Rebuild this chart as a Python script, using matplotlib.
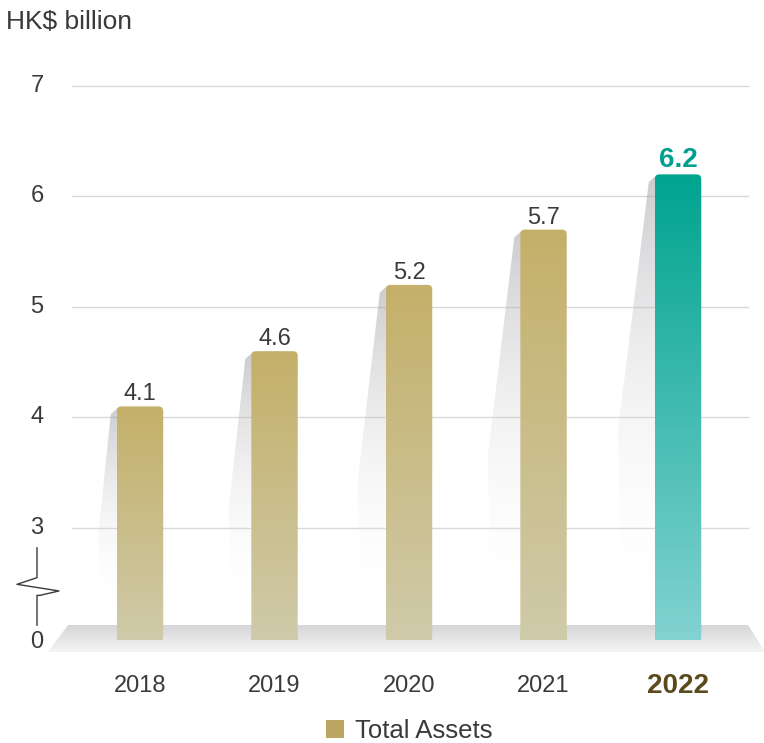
import numpy as np
import matplotlib.pyplot as plt
from matplotlib.patches import Polygon, FancyBboxPatch, Rectangle
from matplotlib.colors import to_rgb

years = ["2018", "2019", "2020", "2021", "2022"]
assets = [4.1, 4.6, 5.2, 5.7, 6.2]
yticks = [3, 4, 5, 6, 7]
ytick_labels = ["3", "4", "5", "6", "7"]

plt.rcParams['font.family'] = ['Liberation Sans', 'DejaVu Sans']

base = 1.986          # where the broken axis puts "0"
bar_w = 0.345
gold_top, gold_bot = "#c4b069", "#cfcaa9"
teal_top, teal_bot = "#00a48f", "#82d2d1"
txt = "#3a3a3a"

fig = plt.figure(figsize=(7.64, 7.43), dpi=100)
ax = fig.add_axes([0, 0, 1, 1])
ax.set_xlim(-1.041, 4.639)
ax.set_ylim(1.054, 7.778)
ax.axis("off")


def vgrad(c_top, c_bot, n=256, a_top=1.0, a_bot=1.0):
    # vertical gradient image, row 0 = top
    t = np.linspace(0, 1, n)[:, None]
    c1, c2 = np.array(to_rgb(c_top)), np.array(to_rgb(c_bot))
    rgb = c1 * (1 - t) + c2 * t
    a = a_top * (1 - t) + a_bot * t
    return np.hstack([rgb, a])[:, None, :]


# grid lines
for v in yticks:
    ax.plot([-0.506, 4.52], [v, v], color="#d9d9d9", lw=1.0, zorder=1)

# floor
floor = Polygon([(-0.535, 2.122), (4.52, 2.122), (4.647, 1.878), (-0.684, 1.878)],
                closed=True, facecolor="none", edgecolor="none")
ax.add_patch(floor)
im = ax.imshow(vgrad("#d6d6d8", "#f4f4f5"), extent=(-0.684, 4.647, 1.878, 2.122),
               aspect="auto", zorder=2, interpolation="bicubic")
im.set_clip_path(floor)

# bars with shadows
for i, (yr, v) in enumerate(zip(years, assets)):
    last = i == len(years) - 1
    xl = i - bar_w / 2
    h = v - base
    off = 0.065 * h
    shade = Polygon([(xl + 0.02, v), (xl - 0.045, v - 0.07), (xl - off, v - 0.55 * h),
                     (xl - off * 0.9, base + 0.3), (xl + 0.05, base + 0.3)],
                    closed=True, facecolor="none", edgecolor="none")
    ax.add_patch(shade)
    sim = ax.imshow(vgrad("#9a9aa0", "#ffffff", a_top=0.5, a_bot=0.0),
                    extent=(xl - off - 0.02, xl + 0.05, base + 0.3, v),
                    aspect="auto", zorder=3, interpolation="bicubic")
    sim.set_clip_path(shade)

    ct, cb = (teal_top, teal_bot) if last else (gold_top, gold_bot)
    box = FancyBboxPatch((xl, base), bar_w, h, boxstyle="round,pad=0,rounding_size=0.035",
                         mutation_aspect=1.22, facecolor="none", edgecolor="none")
    ax.add_patch(box)
    bim = ax.imshow(vgrad(ct, cb), extent=(xl, xl + bar_w, base, v),
                    aspect="auto", zorder=4, interpolation="bicubic")
    bim.set_clip_path(box)
    # square off the bottom
    ax.add_patch(Rectangle((xl, base), bar_w, 0.05, facecolor=cb, edgecolor="none", zorder=4))

    if last:
        ax.text(i, v + 0.01, f"{v:.1f}", ha="center", va="bottom", fontsize=20,
                fontweight="bold", color="#00a08e", zorder=5)
        ax.text(i, 1.57, yr, ha="center", va="center", fontsize=20, fontweight="bold",
                color="#5a4a1c")
    else:
        ax.text(i, v + 0.01, f"{v:.1f}", ha="center", va="bottom", fontsize=17,
                color=txt, zorder=5)
        ax.text(i, 1.57, yr, ha="center", va="center", fontsize=17, color=txt)

# y tick labels
for v, lab in zip(yticks, ytick_labels):
    ax.text(-0.766, v, lab, ha="center", va="center", fontsize=17, color=txt)
ax.text(-0.766, 1.968, "0", ha="center", va="center", fontsize=17, color=txt)

# axis break symbol
bx = [-0.766, -0.766, -0.915, -0.603, -0.744, -0.766, -0.766]
by = [2.82, 2.55, 2.49, 2.43, 2.39, 2.39, 2.12]
ax.plot(bx, by, color=txt, lw=1.0, zorder=5)

# unit label
ax.text(-1.0, 7.58, "HK$ billion", ha="left", va="center", fontsize=19, color=txt)

# legend
ax.add_patch(Rectangle((1.379, 1.10), 0.134, 0.165, facecolor="#bca562", edgecolor="none"))
ax.text(1.599, 1.16, "Total Assets", ha="left", va="center", fontsize=18.5, color=txt)

fig.savefig("out.png", dpi=100)
